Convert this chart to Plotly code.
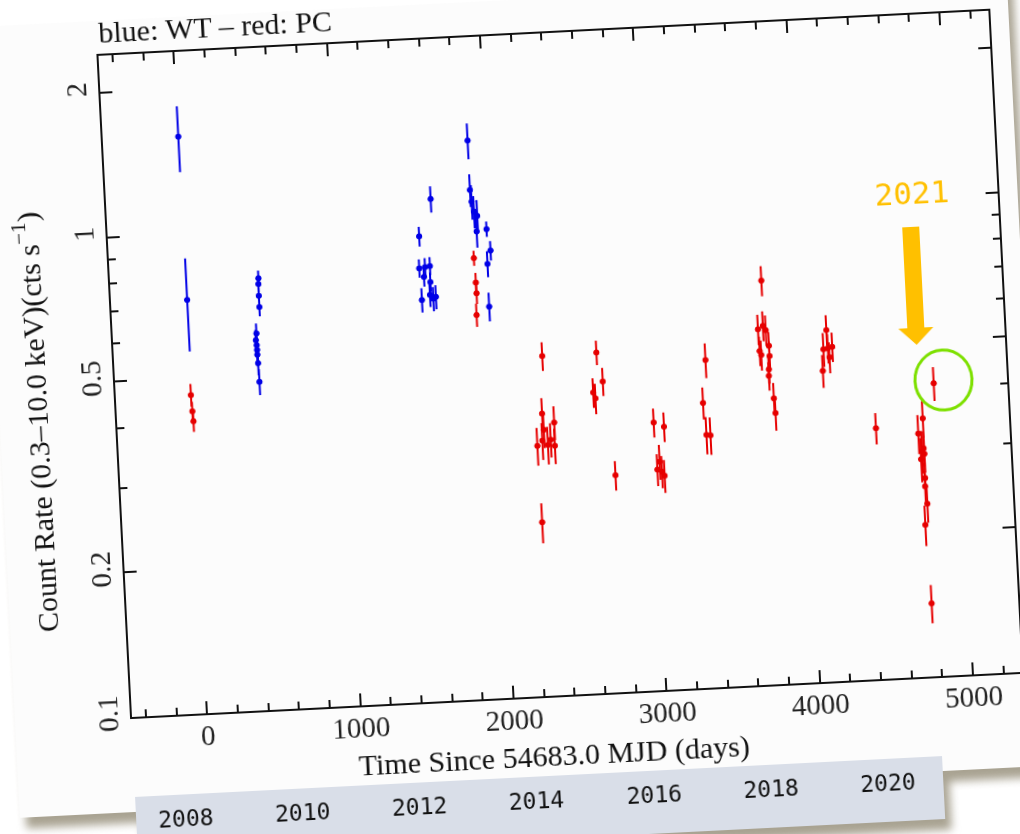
import plotly.graph_objects as go

# Swift-XRT light curve: WT mode (blue) and PC mode (red)
wt_days = [2, 6,
           477, 475, 474, 474, 446, 440, 444, 445, 445, 447, 450,
           1538, 1625, 1528, 1566, 1598, 1556, 1596, 1535, 1589, 1610, 1627,
           1885, 1884, 1891, 1903, 1923, 1914, 1979, 1998, 1974, 1971]
wt_rate = [1.594, 0.728,
           0.793, 0.772, 0.729, 0.691, 0.609, 0.590, 0.576, 0.563, 0.550, 0.528, 0.483,
           0.932, 1.112, 0.800, 0.804, 0.807, 0.767, 0.747, 0.687, 0.703, 0.689, 0.695,
           1.458, 1.150, 1.087, 1.036, 1.014, 0.941, 0.950, 0.856, 0.804, 0.655]
wt_err = [0.25, 0.16,
          0.03, 0.03, 0.03, 0.03, 0.03, 0.03, 0.03, 0.03, 0.03, 0.03, 0.03,
          0.044, 0.07, 0.035, 0.035, 0.035, 0.035, 0.035, 0.04, 0.04, 0.04, 0.04,
          0.125, 0.09, 0.09, 0.08, 0.08, 0.07, 0.035, 0.04, 0.05, 0.045]

pc_days = [-1, 3, 7,
           1887, 1892, 1893, 1886,
           2300, 2280, 2286, 2239, 2273, 2308, 2328, 2356, 2353, 2245,
           2654, 2686, 2620, 2633, 2738,
           3004, 3070, 3013, 3030, 3042, 3058,
           3362, 3332, 3344, 3370,
           3752, 3714, 3747, 3764, 3718, 3727, 3780, 3781, 3772, 3770, 3795, 3801,
           4159, 4134, 4163, 4192, 4171, 4123,
           4450,
           4841, 4758, 4724, 4754, 4743, 4757, 4734, 4754, 4751, 4760, 4740, 4755]
pc_rate = [0.461, 0.426, 0.406,
           0.829, 0.737, 0.700, 0.631,
           0.510, 0.387, 0.358, 0.332, 0.340, 0.333, 0.341, 0.370, 0.331, 0.230,
           0.512, 0.445, 0.423, 0.411, 0.283,
           0.361, 0.353, 0.288, 0.299, 0.285, 0.279,
           0.481, 0.392, 0.336, 0.335,
           0.694, 0.550, 0.559, 0.547, 0.496, 0.486, 0.507, 0.483, 0.453, 0.439, 0.394, 0.367,
           0.539, 0.492, 0.494, 0.497, 0.473, 0.444,
           0.333,
           0.407, 0.345, 0.321, 0.299, 0.295, 0.291, 0.284, 0.259, 0.249, 0.229, 0.207, 0.142]
pc_err = [0.025, 0.02, 0.02,
          0.03, 0.035, 0.035, 0.035,
          0.035, 0.03, 0.03, 0.03, 0.03, 0.03, 0.028, 0.03, 0.028, 0.022,
          0.03, 0.03, 0.03, 0.03, 0.02,
          0.025, 0.025, 0.022, 0.025, 0.022, 0.022,
          0.04, 0.03, 0.03, 0.03,
          0.05, 0.04, 0.04, 0.04, 0.035, 0.035, 0.035, 0.035, 0.03, 0.03, 0.03, 0.03,
          0.04, 0.04, 0.035, 0.035, 0.035, 0.035,
          0.025,
          0.033, 0.03, 0.03, 0.025, 0.03, 0.025, 0.03, 0.02, 0.02, 0.02, 0.02, 0.013]

X_TICKS = [0, 1000, 2000, 3000, 4000, 5000]
Y_TICKS = [0.1, 0.2, 0.5, 1, 2]
Y_TICK_TEXT = ["0.1", "0.2", "0.5", "1", "2"]
Y_MINOR = [0.3, 0.4, 0.6, 0.7, 0.8, 0.9]
YEARS = ["2008", "2010", "2012", "2014", "2016", "2018", "2020"]

# canvas geometry (pixels)
W, H = 1060, 880
L, T, PW, PH = 132, 55, 891, 662


def fx(px):
    return (px - L) / PW


def fy(py):
    return (T + PH - py) / PH


SERIF = "Liberation Serif"
MONO = "DejaVu Sans Mono"
BLUE = "#0000e6"
RED = "#e60000"

fig = go.Figure()
for xs, ys, es, col in [(wt_days, wt_rate, wt_err, BLUE), (pc_days, pc_rate, pc_err, RED)]:
    fig.add_trace(go.Scatter(
        x=xs, y=ys, mode="markers",
        marker=dict(color=col, size=6, line=dict(width=0)),
        error_y=dict(type="data", array=es, color=col, thickness=2, width=0),
        error_x=dict(type="constant", value=18, color=col, thickness=2, width=0),
        showlegend=False, hoverinfo="skip",
    ))

shapes = [
    # sheet
    dict(type="rect", xref="paper", yref="paper", x0=fx(15), x1=fx(1043), y0=fy(812), y1=fy(20),
         fillcolor="#fcfcfc", line=dict(width=0), layer="below"),
    # year strip
    dict(type="rect", xref="paper", yref="paper", x0=fx(131), x1=fx(939), y0=fy(860), y1=fy(797),
         fillcolor="#d9dee8", line=dict(width=0), layer="below"),
    # highlight ring
    dict(type="circle", xref="paper", yref="paper", x0=fx(931), x1=fx(988), y0=fy(451.5), y1=fy(391.5),
         line=dict(color="#7de000", width=3), fillcolor="rgba(0,0,0,0)", layer="above"),
    # arrow shaft
    dict(type="rect", xref="paper", yref="paper", x0=fx(926), x1=fx(943), y0=fy(368), y1=fy(267),
         fillcolor="#ffc000", line=dict(width=0), layer="above"),
    # arrow head
    dict(type="path", xref="paper", yref="paper",
         path=f"M {fx(917)} {fy(368)} L {fx(952)} {fy(368)} L {fx(934.5)} {fy(385)} Z",
         fillcolor="#ffc000", line=dict(width=0), layer="above"),
]

annotations = [
    dict(text="blue: WT \u2013 red: PC", x=fx(131), y=fy(31), xanchor="left", yanchor="middle",
         font=dict(family=SERIF, size=30, color="#111")),
    dict(text="Time Since 54683.0 MJD (days)", x=fx(551), y=fy(777), xanchor="center", yanchor="middle",
         font=dict(family=SERIF, size=30, color="#111")),
    dict(text="Count Rate (0.3\u201310.0 keV)(cts s<sup>\u22121</sup>)", x=fx(50), y=fy(418),
         xanchor="center", yanchor="middle", textangle=-90,
         font=dict(family=SERIF, size=30, color="#111")),
    dict(text="2021", x=fx(937.5), y=fy(233), xanchor="center", yanchor="middle",
         font=dict(family=MONO, size=31, color="#ffc000")),
]
for i, yr in enumerate(YEARS):
    annotations.append(dict(text=yr, x=fx(180 + i * 117.3), y=fy(821), xanchor="center", yanchor="middle",
                            font=dict(family=MONO, size=23, color="#111")))
for a in annotations:
    a.update(xref="paper", yref="paper", showarrow=False)

axis_common = dict(
    showgrid=False, zeroline=False, showline=True, linecolor="#111", linewidth=2,
    mirror="ticks", ticks="inside", ticklen=12, tickwidth=1.6, tickcolor="#111",
    tickfont=dict(family=SERIF, size=29, color="#222"),
)

fig.update_layout(
    width=W, height=H, autosize=False,
    margin=dict(l=L, r=W - L - PW, t=T, b=H - T - PH, pad=0),
    paper_bgcolor="rgba(0,0,0,0)", plot_bgcolor="rgba(0,0,0,0)",
    xaxis=dict(range=[-491, 5320], tickvals=X_TICKS, ticklabelstandoff=-5,
               minor=dict(dtick=200, tick0=0, ticks="inside", ticklen=7, tickwidth=1.5,
                          tickcolor="#111", showgrid=False),
               **axis_common),
    yaxis=dict(type="log", range=[-1, 0.379], tickvals=Y_TICKS, ticktext=Y_TICK_TEXT, tickangle=-90,
               minor=dict(tickvals=Y_MINOR, ticks="inside", ticklen=7, tickwidth=1.5,
                          tickcolor="#111", showgrid=False),
               **axis_common),
    shapes=shapes, annotations=annotations,
)

post = """
var gd = document.getElementById('{plot_id}');
document.documentElement.style.overflow = 'hidden';
document.body.style.margin = '0';
document.body.style.overflow = 'hidden';
document.body.style.background = '#ffffff';
gd.style.transformOrigin = '132px 717px';
gd.style.transform = 'rotate(-2.9deg)';
gd.style.filter = 'drop-shadow(6px 11px 4px rgba(140,132,110,0.75))';
"""

fig.write_html("out.html", post_script=post)
